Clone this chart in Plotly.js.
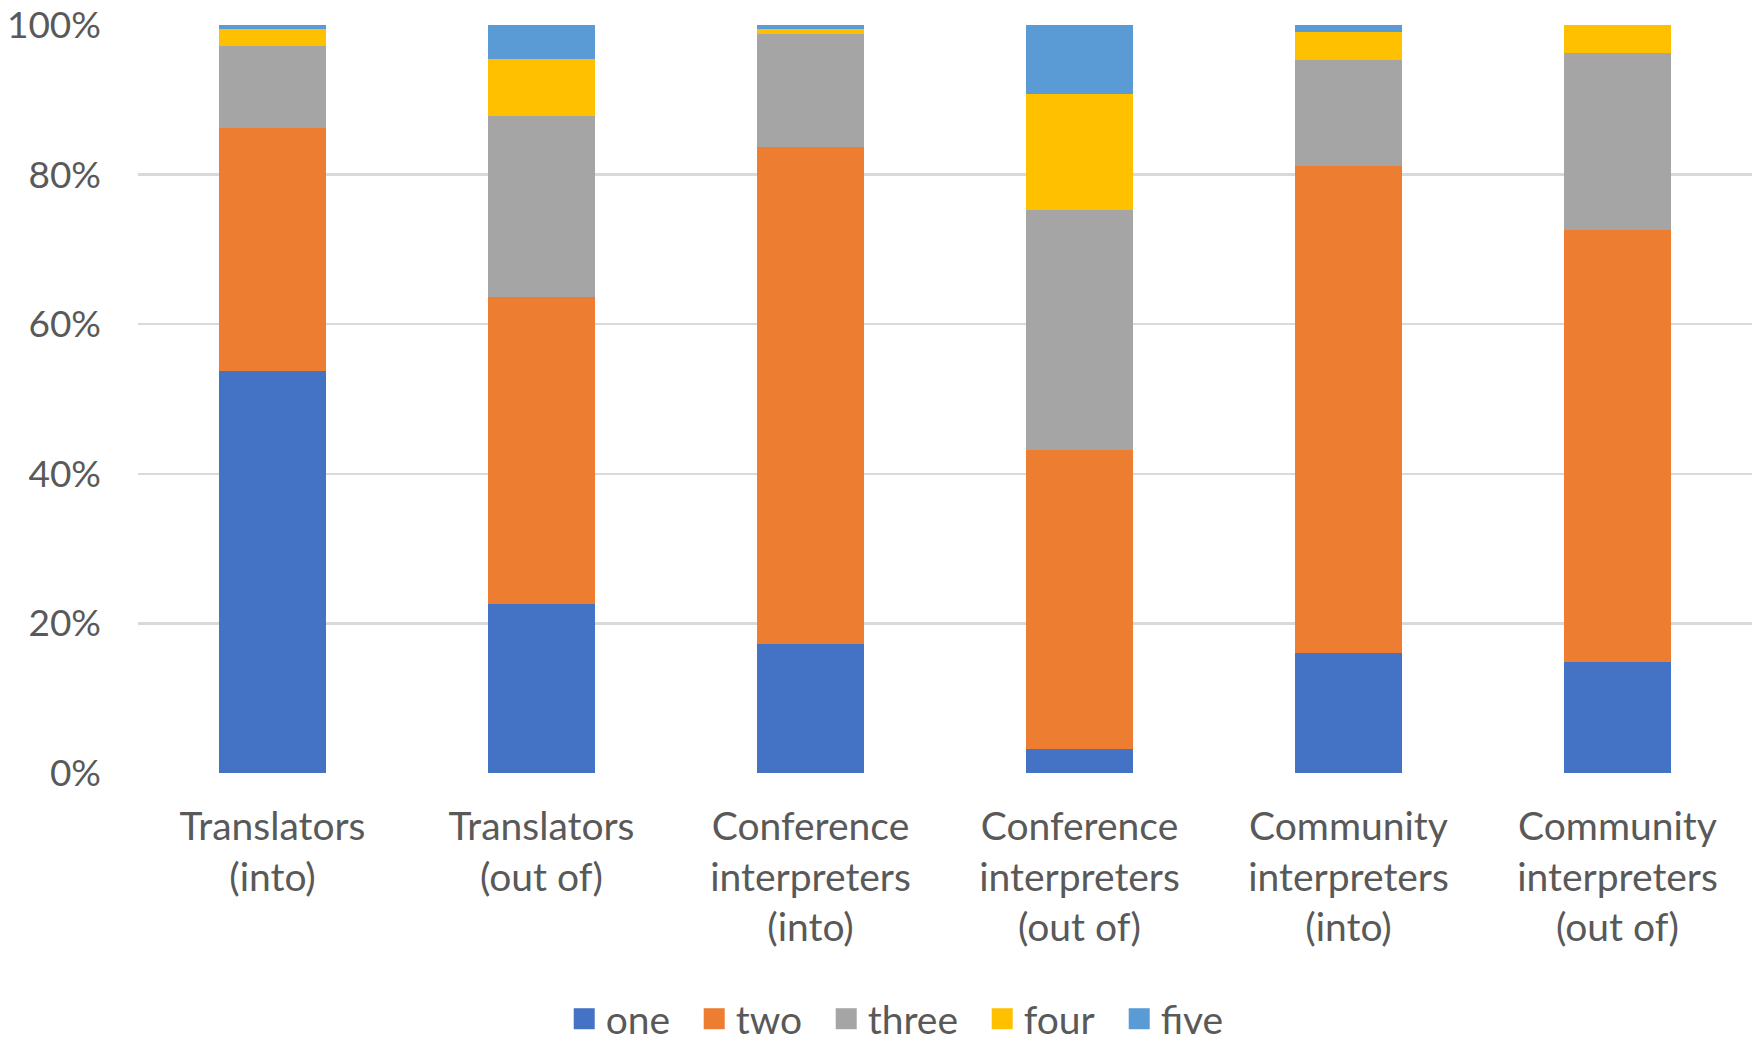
<!DOCTYPE html>
<html>
<head>
<meta charset="utf-8">
<script src="https://cdn.plot.ly/plotly-3.0.1.min.js"></script>
<style>
html, body { margin: 0; padding: 0; background: #ffffff; }
#chart { width: 1760px; height: 1045px; }
</style>
</head>
<body>
<div id="chart"></div>
<script>
// ---- data (percent of respondents) ----
const categories = [
  "Translators<br>(into)",
  "Translators<br>(out of)",
  "Conference<br>interpreters<br>(into)",
  "Conference<br>interpreters<br>(out of)",
  "Community<br>interpreters<br>(into)",
  "Community<br>interpreters<br>(out of)"
];
const seriesNames = ["one", "two", "three", "four", "five"];
const one   = [53.7, 22.6, 17.3,  3.2, 16.1, 14.9];
const two   = [32.5, 41.0, 66.4, 40.0, 65.0, 57.7];
const three = [11.0, 24.3, 15.1, 32.1, 14.2, 23.6];
const four  = [ 2.3,  7.6,  0.7, 15.5,  3.8,  3.8];
const five  = [ 0.5,  4.5,  0.5,  9.2,  0.9,  0.0];
const yTickVals = [0, 20, 40, 60, 80, 100];
const yTickText = ["0%", "20%", "40%", "60%", "80%", "100%"];

const seriesValues = [one, two, three, four, five];
const colors = ["#4472C4", "#ED7D31", "#A5A5A5", "#FFC000", "#5B9BD5"];

const FONT = "Lato, 'Open Sans', sans-serif";
const FSIZE = 39;
const YSIZE = 37;
const TXT = "#595959";

// measure legend text widths to space entries like the original
const cv = document.createElement("canvas").getContext("2d");
cv.font = FSIZE + "px Lato";

const traces = seriesNames.map((name, i) => ({
  type: "bar",
  name: name,
  x: categories,
  y: seriesValues[i],
  marker: { color: colors[i], line: { width: 0 } },
  legendwidth: Math.round(cv.measureText(name).width + 21),
  hoverinfo: "x+y+name"
}));

const layout = {
  width: 1760,
  height: 1045,
  barmode: "stack",
  bargap: 0.6,
  paper_bgcolor: "#ffffff",
  plot_bgcolor: "#ffffff",
  margin: { l: 138, r: 8, t: 25, b: 272 },
  font: { family: FONT, size: FSIZE, color: TXT },
  showlegend: true,
  legend: {
    orientation: "h",
    x: 0.265,
    xanchor: "left",
    yref: "container",
    y: 0.025,
    yanchor: "middle",
    font: { family: FONT, size: FSIZE, color: TXT },
    bgcolor: "rgba(0,0,0,0)",
    traceorder: "normal"
  },
  xaxis: {
    type: "category",
    showgrid: false,
    zeroline: false,
    showline: false,
    ticks: "",
    ticklabelstandoff: 27,
    tickfont: { family: FONT, size: FSIZE, color: TXT },
    fixedrange: true
  },
  yaxis: {
    range: [0, 100],
    tickvals: yTickVals,
    ticktext: yTickText,
    showgrid: true,
    gridcolor: "#D9D9D9",
    gridwidth: 2.5,
    zeroline: false,
    showline: false,
    ticks: "",
    ticklabelstandoff: 36,
    tickfont: { family: FONT, size: YSIZE, color: TXT },
    fixedrange: true
  }
};

Plotly.newPlot("chart", traces, layout, { displayModeBar: false, staticPlot: true }).then(gd => {
  const ns = "http://www.w3.org/2000/svg";
  gd.querySelectorAll(".legend .traces").forEach((g, i) => {
    const pts = g.querySelector(".legendpoints");
    if (pts) pts.style.display = "none";
    const t = g.querySelector(".legendtext");
    const tx = t ? t.getBBox().x : 40;
    const r = document.createElementNS(ns, "rect");
    r.setAttribute("x", tx - 32);
    r.setAttribute("y", -10.5);
    r.setAttribute("width", 21);
    r.setAttribute("height", 21);
    r.setAttribute("fill", colors[i]);
    g.insertBefore(r, g.firstChild);
  });
});
</script>
</body>
</html>
